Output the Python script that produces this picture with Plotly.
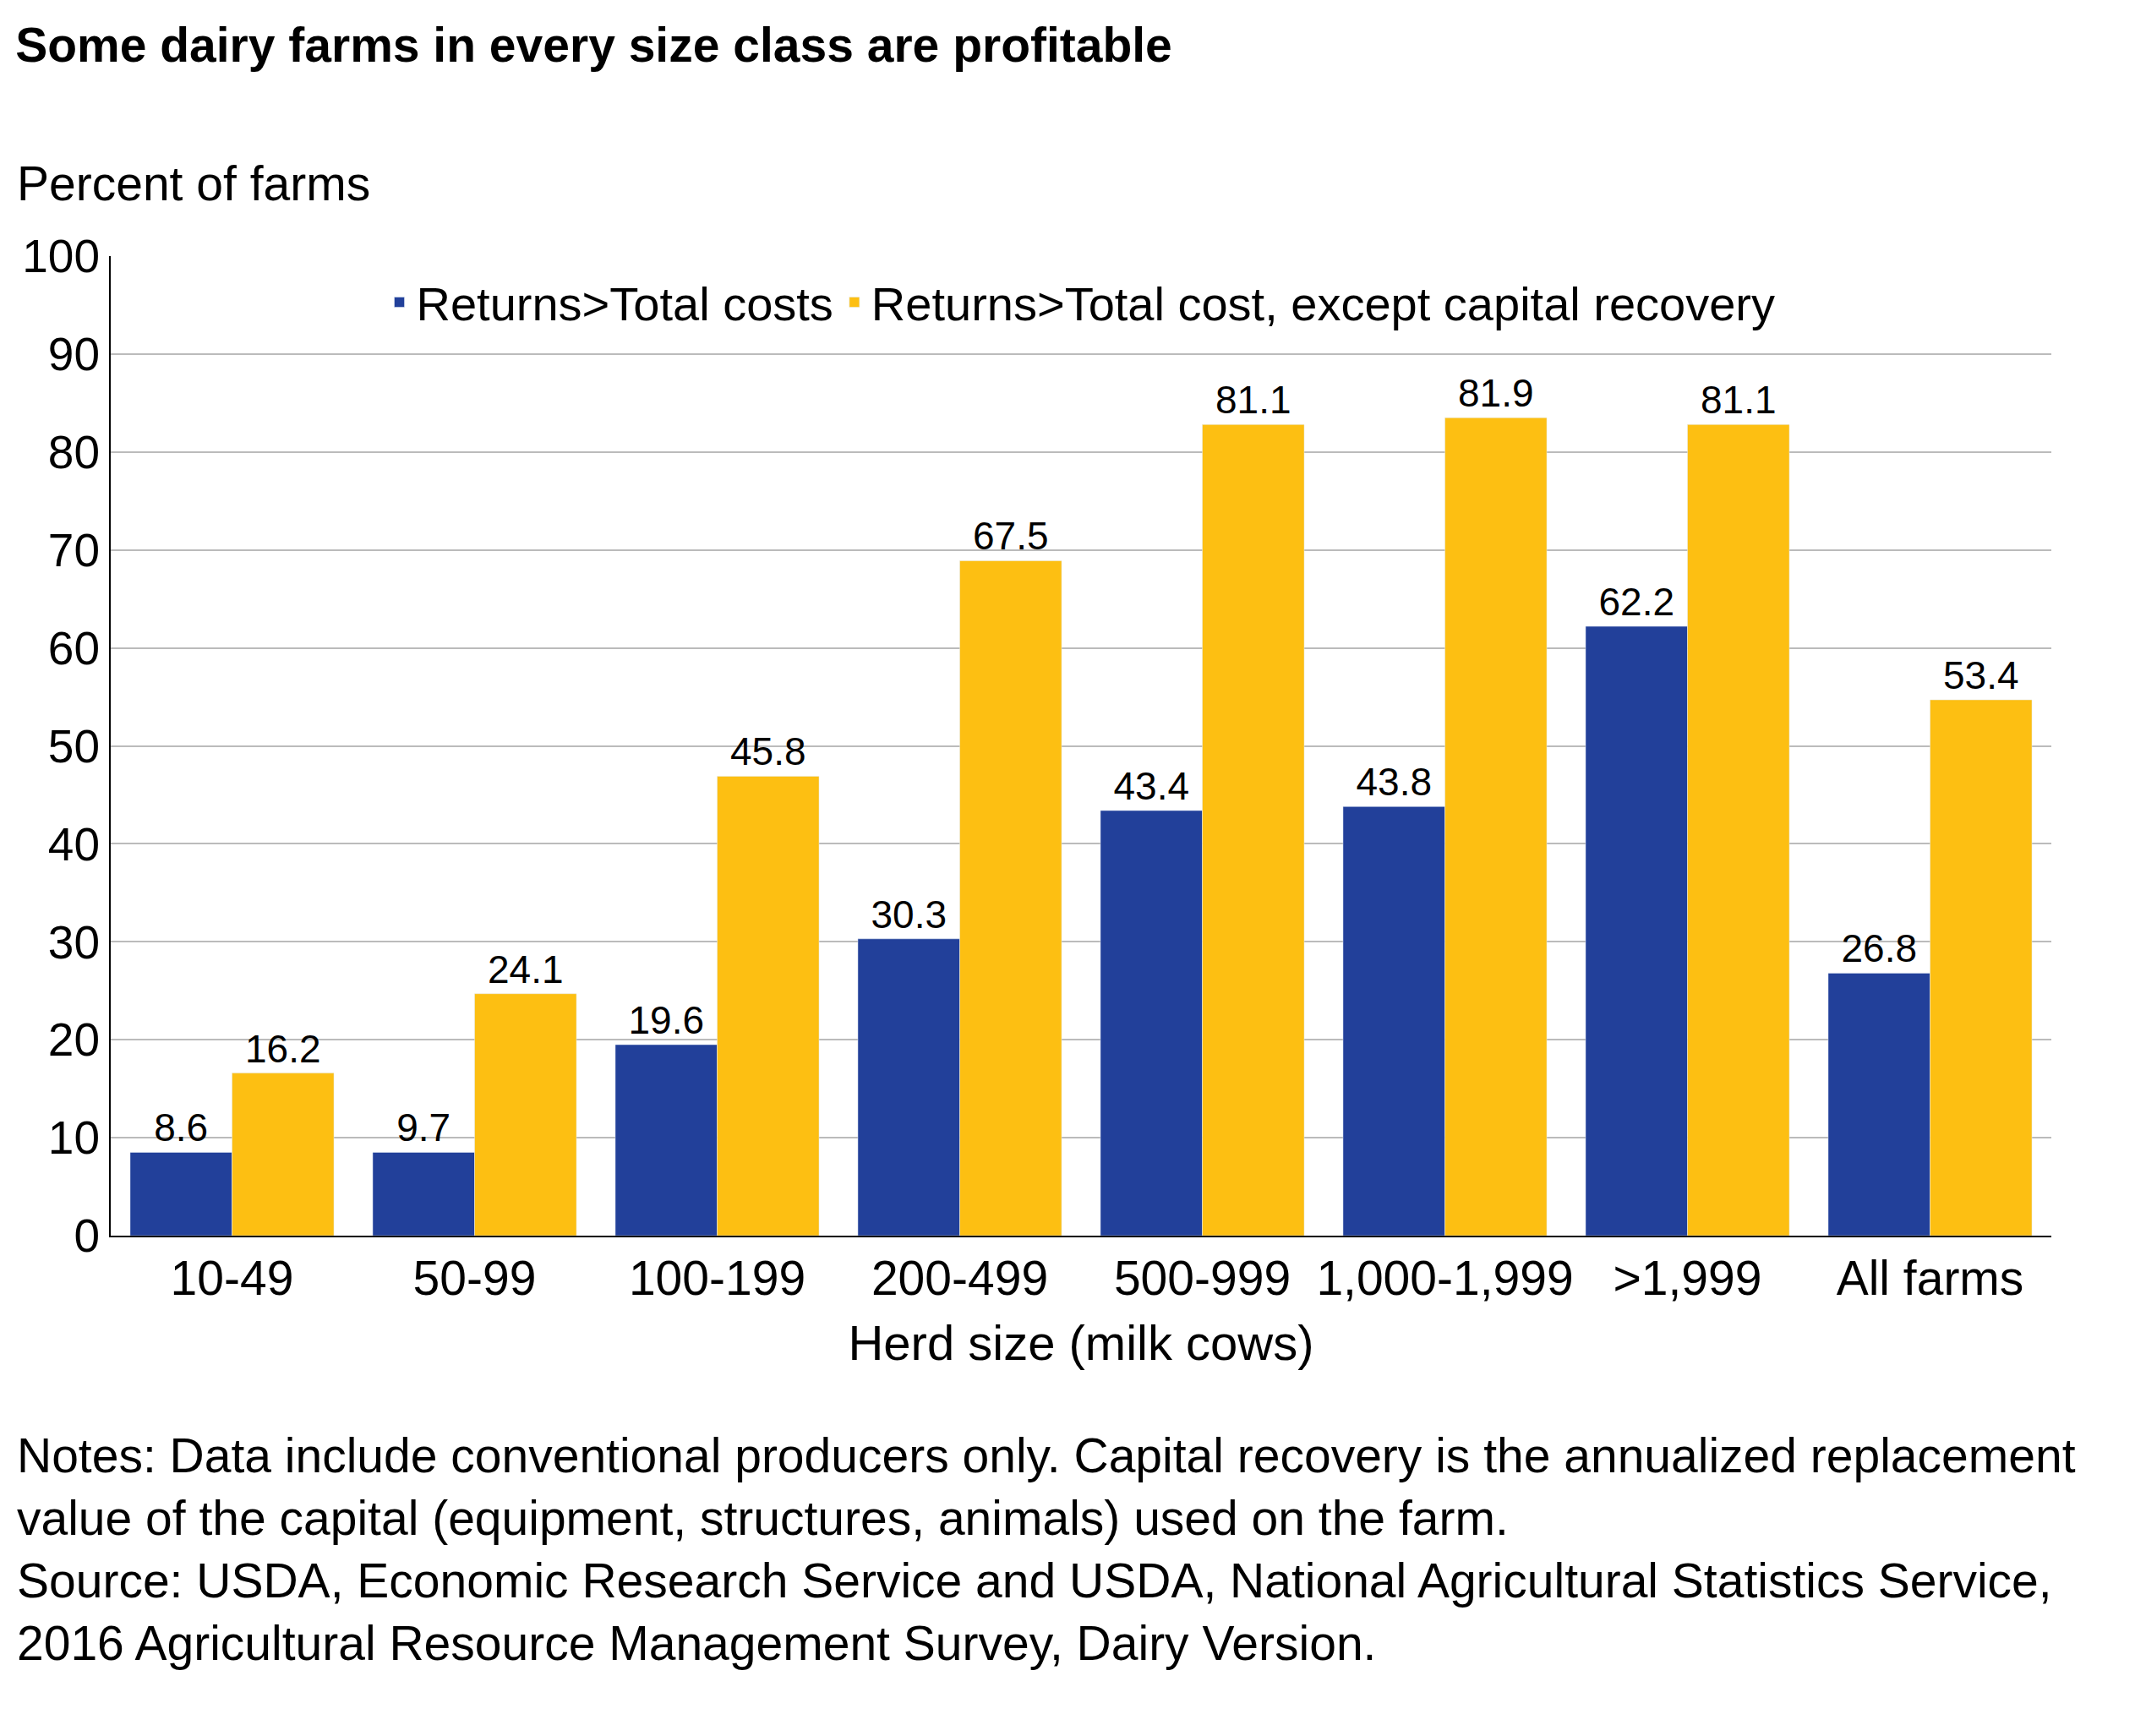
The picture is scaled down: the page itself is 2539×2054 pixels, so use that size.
import plotly.graph_objects as go

categories = ["10-49", "50-99", "100-199", "200-499", "500-999", "1,000-1,999", ">1,999", "All farms"]
total_costs = [8.5, 8.5, 19.5, 30.3, 43.4, 43.8, 62.2, 26.8]
total_costs_labels = ["8.6", "9.7", "19.6", "30.3", "43.4", "43.8", "62.2", "26.8"]
except_capital = [16.6, 24.7, 46.9, 68.9, 82.8, 83.5, 82.8, 54.7]
except_capital_labels = ["16.2", "24.1", "45.8", "67.5", "81.1", "81.9", "81.1", "53.4"]
y_ticks = list(range(0, 101, 10))

FONT = "Liberation Sans, Arial, sans-serif"
fig = go.Figure()
fig.add_bar(x=categories, y=total_costs, name="Returns>Total costs", marker_color="#22409A",
            text=total_costs_labels, textposition="outside", cliponaxis=False,
            textfont=dict(size=46, color="black"))
fig.add_bar(x=categories, y=except_capital, name="Returns>Total cost, except capital recovery",
            marker_color="#FDBF12", text=except_capital_labels, textposition="outside",
            cliponaxis=False, textfont=dict(size=46, color="black"))

fig.update_layout(
    width=2539, height=2054, paper_bgcolor="white", plot_bgcolor="white",
    font=dict(family=FONT, size=55, color="black"),
    margin=dict(l=123, r=120, t=295, b=600),
    barmode="group", bargap=0.16, bargroupgap=0,
    title=dict(text="<b>Some dairy farms in every size class are profitable</b>",
               x=0.004, xanchor="left", y=0.988, yanchor="top", font=dict(size=57)),
    legend=dict(orientation="h", x=0.5, xanchor="center", y=0.99, yanchor="top",
                font=dict(size=56), bgcolor="rgba(0,0,0,0)", itemwidth=30),
    showlegend=True,
)
fig.update_yaxes(range=[0, 100], tickvals=y_ticks, showgrid=True, gridcolor="#BBBBBB",
                 gridwidth=1.5, showline=True, linecolor="black", linewidth=2,
                 ticks="", tickfont=dict(size=55), zeroline=False)
fig.update_xaxes(showline=True, linecolor="black", linewidth=2, tickfont=dict(size=57),
                 title=dict(text="Herd size (milk cows)", font=dict(size=58), standoff=25))
fig.add_annotation(text="Percent of farms", xref="paper", yref="paper", x=-0.049, y=1.045,
                   xanchor="left", yanchor="bottom", showarrow=False, font=dict(size=57))
fig.add_annotation(
    text=("Notes: Data include conventional producers only. Capital recovery is the annualized replacement<br>"
          "value of the capital (equipment, structures, animals) used on the farm.<br>"
          "Source: USDA, Economic Research Service and USDA, National Agricultural Statistics Service,<br>"
          "2016 Agricultural Resource Management Survey, Dairy Version."),
    xref="paper", yref="paper", x=-0.049, y=-0.195, xanchor="left", yanchor="top", align="left",
    showarrow=False, font=dict(size=57))
fig.write_html("out.html")
